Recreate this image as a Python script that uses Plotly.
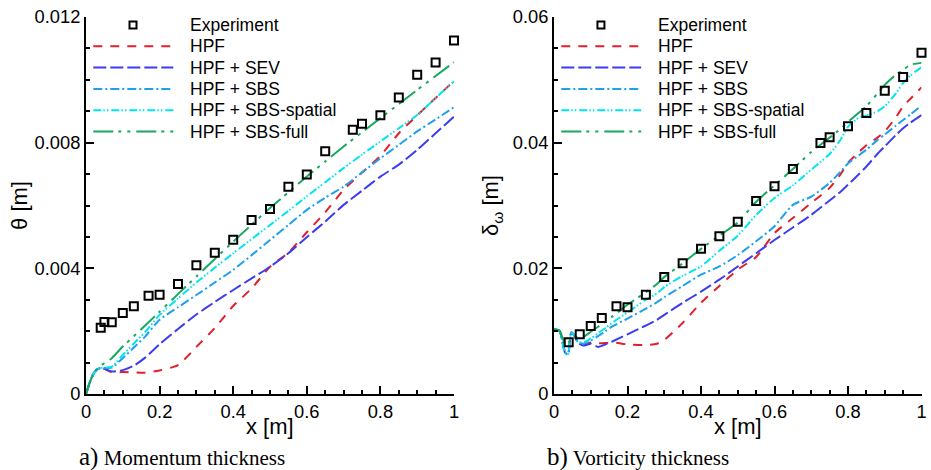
import plotly.graph_objects as go

# ---------------- data ----------------
# a) momentum thickness
x_exp_a = [0.04, 0.05, 0.07, 0.10, 0.13, 0.17, 0.20, 0.25, 0.30, 0.35, 0.40, 0.45,
           0.50, 0.55, 0.60, 0.65, 0.725, 0.75, 0.80, 0.85, 0.90, 0.95, 1.00]
theta_exp = [0.00211, 0.00229, 0.00228, 0.00258, 0.00279, 0.00313, 0.00316, 0.00350,
             0.00410, 0.00450, 0.00491, 0.00554, 0.00589, 0.00660, 0.00699, 0.00773,
             0.00841, 0.00860, 0.00887, 0.00944, 0.01016, 0.01055, 0.01125]

x_a = [0.0, 0.01, 0.02, 0.03, 0.04, 0.05, 0.07, 0.10, 0.13, 0.16, 0.20, 0.25, 0.30,
       0.35, 0.40, 0.45, 0.50, 0.55, 0.60, 0.65, 0.70, 0.75, 0.80, 0.85, 0.90, 0.95, 1.00]
theta_hpf = [0.0, 0.00036, 0.00064, 0.00078, 0.00083, 0.00080, 0.00069, 0.00070, 0.00069,
             0.00068, 0.00075, 0.00092, 0.00150, 0.00210, 0.00280, 0.00336, 0.00405,
             0.00450, 0.00515, 0.00578, 0.00650, 0.00705, 0.00758, 0.00830, 0.00887,
             0.00942, 0.00996]
theta_sev = [0.0, 0.00036, 0.00064, 0.00078, 0.00083, 0.00080, 0.00072, 0.00076, 0.00090,
             0.00115, 0.00158, 0.00207, 0.00253, 0.00293, 0.00331, 0.00368, 0.00405,
             0.00448, 0.00499, 0.00549, 0.00602, 0.00647, 0.00692, 0.00730, 0.00777,
             0.00830, 0.00883]
theta_sbs = [0.0, 0.00036, 0.00064, 0.00078, 0.00083, 0.00083, 0.00084, 0.00114, 0.00148,
             0.00182, 0.00236, 0.00276, 0.00315, 0.00355, 0.00395, 0.00442, 0.00490,
             0.00538, 0.00586, 0.00625, 0.00660, 0.00705, 0.00750, 0.00793, 0.00836,
             0.00874, 0.00913]
theta_spatial = [0.0, 0.00036, 0.00064, 0.00078, 0.00083, 0.00084, 0.00087, 0.00124, 0.00161,
                 0.00196, 0.00252, 0.00304, 0.00355, 0.00402, 0.00448, 0.00493, 0.00538,
                 0.00583, 0.00629, 0.00674, 0.00719, 0.00762, 0.00804, 0.00846, 0.00888,
                 0.00942, 0.00995]
theta_full = [0.0, 0.00036, 0.00064, 0.00080, 0.00090, 0.00098, 0.00114, 0.00151, 0.00184,
              0.00217, 0.00262, 0.00318, 0.00374, 0.00430, 0.00485, 0.00539, 0.00592,
              0.00642, 0.00692, 0.00740, 0.00788, 0.00833, 0.00878, 0.00923, 0.00968,
              0.01012, 0.01056]

# b) vorticity thickness
x_exp_b = [0.04, 0.07, 0.10, 0.13, 0.17, 0.20, 0.25, 0.30, 0.35, 0.40, 0.45, 0.50,
           0.55, 0.60, 0.65, 0.725, 0.75, 0.80, 0.85, 0.90, 0.95, 1.00]
delta_exp = [0.00822, 0.00950, 0.01082, 0.01210, 0.01396, 0.01380, 0.01580, 0.01862,
             0.02080, 0.02313, 0.02510, 0.02743, 0.03072, 0.03305, 0.03581, 0.03995,
             0.04085, 0.04260, 0.04472, 0.04827, 0.05045, 0.05432]

x_b = [0.0, 0.015, 0.03, 0.038, 0.047, 0.055, 0.065, 0.08, 0.10, 0.12, 0.14, 0.16, 0.20,
       0.25, 0.28, 0.30, 0.35, 0.40, 0.45, 0.50, 0.55, 0.60, 0.65, 0.70, 0.75, 0.78,
       0.80, 0.83, 0.85, 0.88, 0.90, 0.93, 0.95, 0.97, 1.00]
delta_hpf = [0.0103, 0.0100, 0.0068, 0.0066, 0.0098, 0.0094, 0.0083, 0.0078, 0.0082, 0.0081,
             0.0081, 0.0082, 0.0079, 0.0078, 0.0080, 0.0086, 0.0113, 0.0145, 0.0172, 0.0198,
             0.0218, 0.0256, 0.0280, 0.0304, 0.0328, 0.0350, 0.0368, 0.0385, 0.0396, 0.0408,
             0.0418, 0.0440, 0.0458, 0.0470, 0.0488]
delta_sev = [0.0103, 0.0100, 0.0066, 0.0063, 0.0098, 0.0093, 0.0082, 0.0077, 0.0080, 0.0075,
             0.0079, 0.0084, 0.0095, 0.0109, 0.0118, 0.0126, 0.0145, 0.0163, 0.0182, 0.0203,
             0.0224, 0.0245, 0.0265, 0.0285, 0.0308, 0.0322, 0.0333, 0.0350, 0.0362, 0.0382,
             0.0394, 0.0412, 0.0423, 0.0432, 0.0444]
delta_sbs = [0.0103, 0.0100, 0.0066, 0.0063, 0.0098, 0.0094, 0.0083, 0.0080, 0.0085, 0.0092,
             0.0100, 0.0108, 0.0120, 0.0136, 0.0146, 0.0154, 0.0172, 0.0190, 0.0203, 0.0221,
             0.0243, 0.0267, 0.0301, 0.0314, 0.0336, 0.0354, 0.0367, 0.0380, 0.0389, 0.0404,
             0.0413, 0.0427, 0.0436, 0.0445, 0.0459]
delta_spatial = [0.0103, 0.0100, 0.0066, 0.0063, 0.0098, 0.0094, 0.0083, 0.0082, 0.0088, 0.0097,
                 0.0105, 0.0114, 0.0130, 0.0150, 0.0160, 0.0170, 0.0188, 0.0203, 0.0228, 0.0252,
                 0.0285, 0.0312, 0.0332, 0.0357, 0.0382, 0.0405, 0.0425, 0.0440, 0.0443, 0.0450,
                 0.0458, 0.0478, 0.0495, 0.0507, 0.0520]
delta_full = [0.0103, 0.0101, 0.0080, 0.0079, 0.0090, 0.0092, 0.0090, 0.0091, 0.0099, 0.0107,
              0.0115, 0.0124, 0.0142, 0.0162, 0.0175, 0.0186, 0.0208, 0.0231, 0.0252, 0.0273,
              0.0306, 0.0332, 0.0358, 0.0385, 0.0408, 0.0422, 0.0433, 0.0448, 0.0458, 0.0478,
              0.0492, 0.0508, 0.0516, 0.0524, 0.0527]

series_names = ["HPF", "HPF + SEV", "HPF + SBS", "HPF + SBS-spatial", "HPF + SBS-full"]
exp_name = "Experiment"
x_ticks = [0, 0.2, 0.4, 0.6, 0.8, 1.0]
theta_ticks = [0, 0.004, 0.008, 0.012]
delta_ticks = [0, 0.02, 0.04, 0.06]
x_title = "x [m]"
captions = [("a)", "Momentum thickness"), ("b)", "Vorticity thickness")]

# ---------------- styles ----------------
colors = ["#e0202a", "#3c3cf0", "#1ea0f0", "#00e4f0", "#16a85e"]
dashes = ["9px,8px", "13px,4px", "9px,3px,2px,3px", "8px,2px,1.5px,2px,1.5px,3px",
          "20px,5px,3px,6px,3px,6px"]
SANS = "Liberation Sans, Arial, Helvetica, sans-serif"
SERIF = "Liberation Serif, Times New Roman, serif"
W, H = 931, 470
px_top, px_bot = 17, 394
dom_a = [86 / W, 454 / W]
dom_b = [554 / W, 921.5 / W]
dom_y = [(H - px_bot) / H, (H - px_top) / H]
plot_w = 368.0
plot_h = float(px_bot - px_top)

fig = go.Figure()

panels = [
    ("x", "y", x_a, [theta_hpf, theta_sev, theta_sbs, theta_spatial, theta_full], x_exp_a, theta_exp),
    ("x2", "y2", x_b, [delta_hpf, delta_sev, delta_sbs, delta_spatial, delta_full], x_exp_b, delta_exp),
]
for xa, ya, xs, ys_list, xe, ye in panels:
    for name, ys, c, d in zip(series_names, ys_list, colors, dashes):
        fig.add_trace(go.Scatter(x=xs, y=ys, mode="lines", name=name, xaxis=xa, yaxis=ya,
                                 line=dict(color=c, width=2, dash=d, shape="spline", smoothing=0.6),
                                 showlegend=False))
    fig.add_trace(go.Scatter(x=xe, y=ye, mode="markers", name=exp_name, xaxis=xa, yaxis=ya,
                             marker=dict(symbol="square-open", size=8, color="black",
                                         line=dict(width=2, color="black")),
                             cliponaxis=False, showlegend=False))

# custom legends (layout decoration, positioned in axis-domain units)
row_top = (px_bot - 25) / plot_h
row_step = 21.3 / plot_h
samp_x0, samp_x1 = 7.3 / plot_w, 87.3 / plot_w
mark_x = 47.0 / plot_w
text_x = 101.7 / plot_w
shapes = []
annotations = []
for xa, ya in [("x", "y"), ("x2", "y2")]:
    xr, yr = xa + " domain", ya + " domain"
    hw, hh = 3.5 / plot_w, 3.5 / plot_h
    shapes.append(dict(type="rect", xref=xr, yref=yr, x0=mark_x - hw, x1=mark_x + hw,
                       y0=row_top - hh, y1=row_top + hh, line=dict(color="black", width=2)))
    annotations.append(dict(xref=xr, yref=yr, x=text_x, y=row_top, text=exp_name,
                            showarrow=False, xanchor="left", yanchor="middle",
                            font=dict(family=SANS, size=17.5, color="black")))
    for i, (name, c, d) in enumerate(zip(series_names, colors, dashes)):
        yy = row_top - (i + 1) * row_step
        shapes.append(dict(type="line", xref=xr, yref=yr, x0=samp_x0, x1=samp_x1, y0=yy, y1=yy,
                           line=dict(color=c, width=2, dash=d)))
        annotations.append(dict(xref=xr, yref=yr, x=text_x, y=yy, text=name,
                                showarrow=False, xanchor="left", yanchor="middle",
                                font=dict(family=SANS, size=17.5, color="black")))
    # x-axis title
    annotations.append(dict(xref=xr, yref="paper", x=0.5, y=(H - 426) / H, text=x_title,
                            showarrow=False, xanchor="center", yanchor="middle",
                            font=dict(family=SANS, size=22, color="black")))

for (lab, txt), xpx in zip(captions, [77, 545]):
    annotations.append(dict(xref="paper", yref="paper", x=xpx / W, y=(H - 457) / H,
                            text="<span style='font-size:25px'>%s</span> %s" % (lab, txt),
                            showarrow=False, xanchor="left", yanchor="middle",
                            font=dict(family=SERIF, size=21, color="black")))

axis_common = dict(showline=True, linecolor="black", linewidth=2, ticks="inside",
                   ticklen=8, tickwidth=1.5, tickcolor="black", showgrid=False,
                   zeroline=False, mirror=False, automargin=False,
                   tickfont=dict(family=SANS, size=18.3, color="black"))

fig.update_layout(
    width=W, height=H, margin=dict(l=0, r=0, t=0, b=0),
    paper_bgcolor="white", plot_bgcolor="white", showlegend=False,
    xaxis=dict(domain=dom_a, range=[0, 1], tickvals=x_ticks, anchor="y",
               minor=dict(dtick=0.05, ticklen=4, ticks="inside", tickcolor="black", tickwidth=1.5),
               **axis_common),
    yaxis=dict(domain=dom_y, range=[0, 0.012], tickvals=theta_ticks, anchor="x",
               minor=dict(dtick=0.001, ticklen=4, ticks="inside", tickcolor="black", tickwidth=1.5),
               title=dict(text="θ [m]", font=dict(family=SANS, size=22, color="black"), standoff=1),
               **axis_common),
    xaxis2=dict(domain=dom_b, range=[0, 1], tickvals=x_ticks, anchor="y2",
                minor=dict(dtick=0.05, ticklen=4, ticks="inside", tickcolor="black", tickwidth=1.5),
                **axis_common),
    yaxis2=dict(domain=dom_y, range=[0, 0.06], tickvals=delta_ticks, anchor="x2",
                minor=dict(dtick=0.005, ticklen=4, ticks="inside", tickcolor="black", tickwidth=1.5),
                title=dict(text="δ<sub>ω</sub> [m]", font=dict(family=SANS, size=22, color="black"), standoff=8),
                **axis_common),
    shapes=shapes, annotations=annotations,
)

fig.write_html("out.html", config={"displayModeBar": False},
               post_script="document.body.style.margin='0';document.body.style.overflow='hidden';")
